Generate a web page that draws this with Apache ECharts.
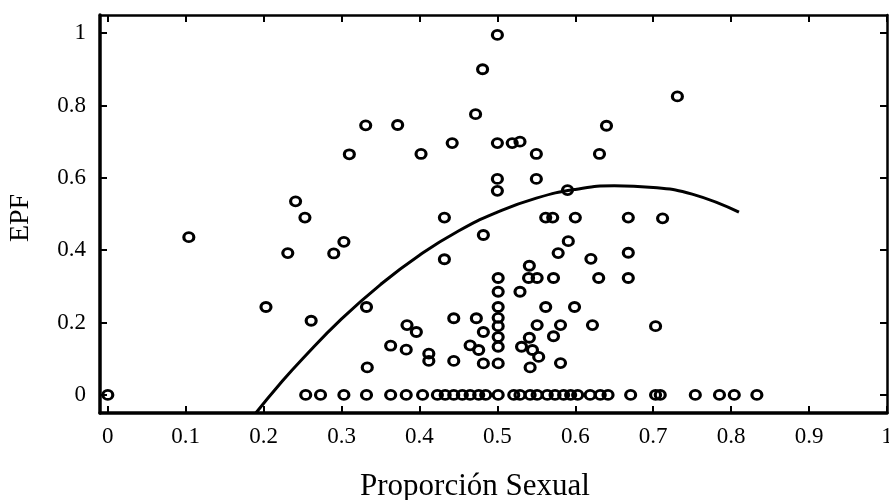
<!DOCTYPE html>
<html>
<head>
<meta charset="utf-8">
<script src="https://cdn.jsdelivr.net/npm/echarts@6/dist/echarts.min.js"></script>
<style>
html,body{margin:0;padding:0;background:#fff;}
#chart{width:889px;height:500px;}
</style>
</head>
<body>
<div id="chart"></div>
<script>
// Tick labels
const xTickValues = [0, 0.1, 0.2, 0.3, 0.4, 0.5, 0.6, 0.7, 0.8, 0.9, 1];
const xTickLabels = ['0', '0.1', '0.2', '0.3', '0.4', '0.5', '0.6', '0.7', '0.8', '0.9', '1'];
const yTickValues = [0, 0.2, 0.4, 0.6, 0.8, 1];
const yTickLabels = ['0', '0.2', '0.4', '0.6', '0.8', '1'];

// Points with EPF = 0 (x values)
const zeroX = [0, 0.254, 0.273, 0.303, 0.332, 0.363, 0.383, 0.404, 0.423, 0.433, 0.444, 0.455,
  0.465, 0.476, 0.485, 0.501, 0.521, 0.529, 0.542, 0.551, 0.564, 0.574, 0.585, 0.594,
  0.603, 0.619, 0.632, 0.642, 0.671, 0.703, 0.709, 0.754, 0.785, 0.804, 0.833];

// Points with EPF > 0
const ptX = [0.104, 0.241, 0.253, 0.231, 0.290, 0.303, 0.310, 0.331, 0.372, 0.402, 0.442, 0.472,
  0.481, 0.500, 0.500, 0.519, 0.529, 0.550, 0.631, 0.640, 0.731, 0.500, 0.500, 0.550,
  0.590, 0.432, 0.562, 0.571, 0.600, 0.668, 0.712, 0.482, 0.591, 0.578, 0.432, 0.620,
  0.668,
  0.203, 0.261, 0.332, 0.333, 0.363, 0.383, 0.384, 0.396, 0.412, 0.412, 0.444, 0.444,
  0.473, 0.482, 0.465, 0.476, 0.482, 0.501, 0.501, 0.501, 0.501, 0.501, 0.501, 0.501,
  0.501, 0.541, 0.540, 0.551, 0.572, 0.630, 0.668, 0.529, 0.562, 0.599, 0.551, 0.581,
  0.622, 0.703, 0.572, 0.541, 0.531, 0.545, 0.553, 0.542, 0.581];
const ptY = [0.436, 0.535, 0.490, 0.392, 0.391, 0.423, 0.665, 0.745, 0.746, 0.666, 0.696, 0.776,
  0.900, 0.995, 0.696, 0.696, 0.700, 0.666, 0.666, 0.744, 0.825, 0.597, 0.564, 0.597,
  0.566, 0.490, 0.490, 0.490, 0.490, 0.490, 0.488, 0.442, 0.425, 0.392, 0.375, 0.376,
  0.393,
  0.243, 0.205, 0.243, 0.076, 0.136, 0.125, 0.193, 0.174, 0.114, 0.094, 0.212, 0.094,
  0.212, 0.174, 0.137, 0.124, 0.087, 0.323, 0.285, 0.243, 0.213, 0.190, 0.160, 0.133,
  0.087, 0.357, 0.323, 0.323, 0.323, 0.323, 0.323, 0.285, 0.243, 0.243, 0.193, 0.193,
  0.193, 0.190, 0.162, 0.158, 0.133, 0.124, 0.105, 0.076, 0.088];

// Fitted curve
const curveX = [0.19, 0.22, 0.25, 0.30, 0.35, 0.40, 0.45, 0.50, 0.55, 0.60, 0.65, 0.70, 0.75, 0.81];
const curveY = [-0.05, 0.028, 0.100, 0.210, 0.305, 0.386, 0.453, 0.505, 0.544, 0.568, 0.578, 0.573, 0.555, 0.505];

const FONT = '"Liberation Serif", "Times New Roman", serif';

const scatterData = [];
zeroX.forEach(x => scatterData.push([x, 0]));
ptX.forEach((x, i) => scatterData.push([x, ptY[i]]));
const curveData = curveX.map((x, i) => [x, curveY[i]]);

function lab(vals, labels) {
  return function (v) {
    const i = vals.findIndex(t => Math.abs(t - v) < 1e-6);
    return i >= 0 ? labels[i] : '';
  };
}

const chart = echarts.init(document.getElementById('chart'), null, {renderer: 'canvas'});
chart.setOption({
  animation: false,
  backgroundColor: '#fff',
  grid: {left: 100, right: 2, top: 15, bottom: 87, containLabel: false, outerBoundsMode: 'none'},
  xAxis: [
    {
      type: 'value', min: -0.01, max: 1.0, position: 'bottom',
      axisLine: {onZero: false, lineStyle: {color: '#000', width: 3.5}},
      axisTick: {inside: true, length: 7, lineStyle: {color: '#000', width: 2}, customValues: xTickValues},
      axisLabel: {customValues: xTickValues, formatter: lab(xTickValues, xTickLabels),
        fontFamily: FONT, fontSize: 23, color: '#000', margin: 12},
      splitLine: {show: false}
    },
    {
      type: 'value', min: -0.01, max: 1.0, position: 'top',
      axisLine: {onZero: false, lineStyle: {color: '#000', width: 2.5}},
      axisTick: {inside: true, length: 7, lineStyle: {color: '#000', width: 2}, customValues: xTickValues},
      axisLabel: {show: false},
      splitLine: {show: false}
    }
  ],
  yAxis: [
    {
      type: 'value', min: -0.05, max: 1.05, position: 'left',
      axisLine: {onZero: false, lineStyle: {color: '#000', width: 3.5}},
      axisTick: {inside: true, length: 7, lineStyle: {color: '#000', width: 2}, customValues: yTickValues},
      axisLabel: {customValues: yTickValues, formatter: lab(yTickValues, yTickLabels),
        fontFamily: FONT, fontSize: 23, color: '#000', margin: 14},
      splitLine: {show: false}
    },
    {
      type: 'value', min: -0.05, max: 1.05, position: 'right',
      axisLine: {onZero: false, lineStyle: {color: '#000', width: 2.5}},
      axisTick: {inside: true, length: 7, lineStyle: {color: '#000', width: 2}, customValues: yTickValues},
      axisLabel: {show: false},
      splitLine: {show: false}
    }
  ],
  graphic: [
    {type: 'text', x: 475, y: 487, silent: true,
      style: {text: 'Proporción Sexual', fontFamily: FONT, fontSize: 31, fill: '#000',
        align: 'center', verticalAlign: 'middle', textAlign: 'center', textVerticalAlign: 'middle'}},
    {type: 'text', x: 21, y: 218, rotation: Math.PI / 2, silent: true,
      style: {text: 'EPF', fontFamily: FONT, fontSize: 28, fill: '#000',
        align: 'center', verticalAlign: 'middle', textAlign: 'center', textVerticalAlign: 'middle'}}
  ],
  series: [
    {
      type: 'scatter', xAxisIndex: 0, yAxisIndex: 0, data: scatterData,
      symbol: 'circle', symbolSize: [10, 9],
      itemStyle: {color: 'rgba(255,255,255,0)', borderColor: '#000', borderWidth: 3, opacity: 1},
      emphasis: {disabled: true}, z: 3
    },
    {
      type: 'line', xAxisIndex: 0, yAxisIndex: 0, data: curveData, smooth: true,
      showSymbol: false, symbol: 'none', clip: true,
      lineStyle: {color: '#000', width: 3}, z: 4
    }
  ]
});
</script>
</body>
</html>
